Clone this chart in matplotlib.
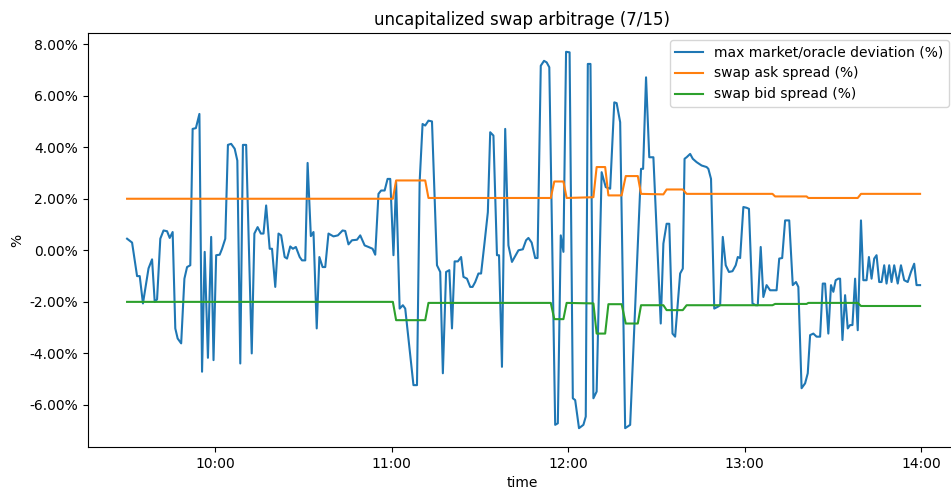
import numpy as np
import pandas as pd
import matplotlib
matplotlib.use("Agg")
import matplotlib.pyplot as plt
import matplotlib.dates as mdates
from matplotlib.ticker import FuncFormatter, MultipleLocator

# minutes after 09:30 on 7/15
start = pd.Timestamp("2023-07-15 09:30")

dev_t = [
    0, 1.7, 3.4, 4.3, 5.4, 7.3, 8.5, 9.4, 10.2, 11.3,
    12.4, 13.6, 14.5, 15.5, 16.4, 17.2, 18.4, 19.5, 20.4, 21.5,
    22.3, 23.4, 24.6, 25.5, 26.4, 27.5, 28.6, 29.4, 30.3, 31.5,
    32.3, 33.4, 34.3, 35.4, 36.6, 37.5, 38.5, 39.4, 40.5, 42.4,
    43.3, 44.4, 45.5, 46.4, 47.3, 48.5, 49.3, 50.4, 51.5, 52.4,
    53.6, 54.4, 55.5, 56.4, 57.4, 58.7, 59.5, 60.6, 61.4, 62.5,
    63.4, 64.5, 65.4, 66.5, 67.4, 68.5, 70.2, 71.7, 73.3, 74.2,
    75.3, 76.5, 78.2, 79.3, 80.8, 82.1, 83.5, 84.4, 85.5, 86.4,
    87.6, 88.6, 89.5, 90.6, 91.5, 92.7, 93.8, 94.6, 97.4, 98.6,
    99.5, 100.5, 101.4, 102.5, 103.7, 105.4, 106.5, 107.4, 108.5, 109.6,
    110.5, 111.4, 112.5, 113.6, 114.4, 115.6, 116.7, 117.5, 118.4, 119.5,
    120.4, 121.6, 122.7, 123.5, 124.6, 125.8, 126.5, 127.5, 128.6, 129.7,
    130.9, 133.1, 134.6, 135.7, 136.5, 137.6, 138.8, 139.6, 140.7, 141.8,
    142.7, 143.6, 145.6, 146.5, 147.5, 148.4, 149.3, 150.5, 151.6, 152.4,
    153.7, 155.2, 156.0, 156.7, 157.6, 158.6, 159.7, 161.4, 162.8, 164.3,
    165.7, 166.5, 167.7, 169.4, 171.1, 174.8, 175.5, 176.5, 177.6, 179.0,
    181.5, 182.4, 183.5, 184.4, 185.5, 186.4, 188.1, 189.0, 189.6, 190.3,
    191.5, 192.4, 193.7, 195.4, 197.1, 197.7, 198.6, 199.7, 200.9, 201.7,
    202.6, 203.6, 204.7, 205.9, 207.0, 207.7, 208.5, 209.6, 210.7, 211.5,
    212.7, 213.8, 214.5, 215.5, 216.4, 217.5, 218.7, 220.9, 221.8, 222.8,
    223.8, 225.2, 226.4, 227.5, 228.3, 229.4, 230.6, 231.5, 232.3, 233.4,
    234.5, 235.7, 236.6, 237.4, 238.5, 239.4, 240.2, 241.0, 241.9, 242.5,
    243.3, 244.2, 245.1, 245.9, 246.7, 247.6, 248.5, 249.6, 250.4, 251.5,
    252.3, 253.2, 254.1, 254.9, 255.8, 256.6, 257.5, 258.3, 259.2, 260.0,
    260.9, 262.1, 263.2, 264.3, 265.5, 266.6, 267.7, 268.5, 269.7,
]
dev_pct = [
    0.45, 0.30, -1.00, -1.00, -2.06, -0.70, -0.35, -2.00, -1.90, 0.45,
    0.77, 0.74, 0.48, 0.71, -3.03, -3.42, -3.61, -1.10, -0.65, -0.58,
    4.71, 4.74, 5.29, -4.71, -0.06, -4.17, 0.52, -4.26, -0.19, -0.17,
    0.06, 0.45, 4.09, 4.13, 3.94, 3.48, -4.39, 4.09, 4.09, -4.00,
    0.65, 0.90, 0.65, 0.65, 1.74, 0.06, 0.06, -1.42, 0.65, 0.58,
    -0.26, -0.32, 0.15, 0.06, 0.13, -0.26, -0.39, -0.39, 3.39, 0.55,
    0.71, -3.03, -0.26, -0.65, -0.65, 0.65, 0.54, 0.58, 0.77, 0.75,
    0.23, 0.39, 0.41, 0.58, 0.19, 0.13, 0.06, -0.17, 2.19, 2.32,
    2.32, 2.77, 2.77, -0.19, 2.65, -2.26, -2.13, -2.26, -5.23, -5.23,
    2.65, 4.90, 4.84, 5.03, 5.00, -0.58, -0.84, -4.77, -0.84, -0.77,
    -3.03, -0.43, -0.43, -0.26, -1.03, -1.10, -1.42, -1.42, -1.23, -0.90,
    -0.90, 0.32, 1.48, 4.58, 4.45, -0.19, -0.19, -4.52, 4.71, 0.19,
    -0.45, 0.00, 0.04, 0.39, 0.48, 0.30, -0.30, -0.30, 7.16, 7.35,
    7.29, 7.10, -6.77, -6.71, 0.58, -0.06, 7.70, 7.68, -5.74, -5.81,
    -6.90, -6.77, -6.45, 7.23, 7.23, -5.74, -5.48, 3.03, 2.45, 2.39,
    5.74, 5.71, 4.97, -6.90, -6.77, 3.16, 3.16, 6.71, 3.61, 3.61,
    -2.84, 0.26, 1.03, 1.03, -3.23, -3.35, -0.90, -0.71, 3.55, 3.61,
    3.74, 3.55, 3.42, 3.29, 3.23, 3.16, 2.77, -2.26, -2.19, -2.13,
    0.52, -0.58, -0.84, -0.81, -0.58, -0.26, -0.30, 1.68, 1.65, 1.61,
    -2.06, -2.13, -2.13, 0.13, -1.81, -1.35, -1.55, -1.55, -0.32, -0.30,
    1.16, 1.16, -1.35, -1.23, -1.42, -5.35, -5.16, -4.77, -3.29, -3.23,
    -3.35, -3.35, -1.29, -1.29, -3.23, -1.35, -1.61, -1.16, -1.10, -1.10,
    -3.48, -1.74, -3.03, -2.90, -2.90, -1.10, -3.10, 1.16, -1.16, -1.16,
    -0.26, -1.10, -0.32, -0.19, -1.23, -1.23, -0.58, -1.29, -0.58, -1.23,
    -0.58, -1.29, -0.58, -1.16, -1.23, -0.84, -0.52, -1.35, -1.35,
]

spread_t = [
    0, 90.4, 91.5, 101.4, 102.5, 144.1, 145.3, 148.4, 149.5, 158.6,
    159.7, 162.6, 163.7, 168.2, 169.6, 173.7, 174.8, 182.4, 183.5, 189.0,
    190.3, 219.5, 220.4, 231.1, 231.7, 248.5, 249.6, 269.7,
]
ask_pct = [
    2.00, 2.00, 2.71, 2.71, 2.03, 2.03, 2.67, 2.67, 2.03, 2.06,
    3.23, 3.23, 2.13, 2.13, 2.88, 2.88, 2.19, 2.17, 2.36, 2.36,
    2.19, 2.19, 2.09, 2.09, 2.03, 2.03, 2.19, 2.19,
]
bid_pct = [
    -2.00, -2.00, -2.71, -2.71, -2.04, -2.04, -2.67, -2.67, -2.04, -2.06,
    -3.23, -3.23, -2.09, -2.09, -2.84, -2.84, -2.13, -2.13, -2.32, -2.32,
    -2.13, -2.13, -2.08, -2.08, -2.04, -2.04, -2.16, -2.16,
]


def to_time(minutes):
    return (start + pd.to_timedelta(np.asarray(minutes, dtype=float), unit="min")).to_pydatetime()


fig = plt.figure(figsize=(9.51, 4.91), dpi=100)
# the source screenshot is cropped just inside the right edge of the axes
ax = fig.add_axes([0.0925, 0.0896, 0.9127, 0.8432])

ax.plot(to_time(dev_t), dev_pct, label="max market/oracle deviation (%)")
ax.plot(to_time(spread_t), ask_pct, label="swap ask spread (%)")
ax.plot(to_time(spread_t), bid_pct, label="swap bid spread (%)")

lim = to_time([-13.3, 281.9])
ax.set_xlim(lim[0], lim[1])
ax.xaxis.set_major_locator(mdates.HourLocator())
ax.xaxis.set_major_formatter(mdates.DateFormatter("%H:%M"))
ax.yaxis.set_major_locator(MultipleLocator(2))
ax.yaxis.set_major_formatter(FuncFormatter(lambda v, _: f"{v:.2f}%"))

ax.set_title("uncapitalized swap arbitrage (7/15)")
ax.set_xlabel("time")
ax.set_ylabel("%")
ax.legend(loc="upper right")

fig.savefig("out.png", dpi=100)
plt.close(fig)
